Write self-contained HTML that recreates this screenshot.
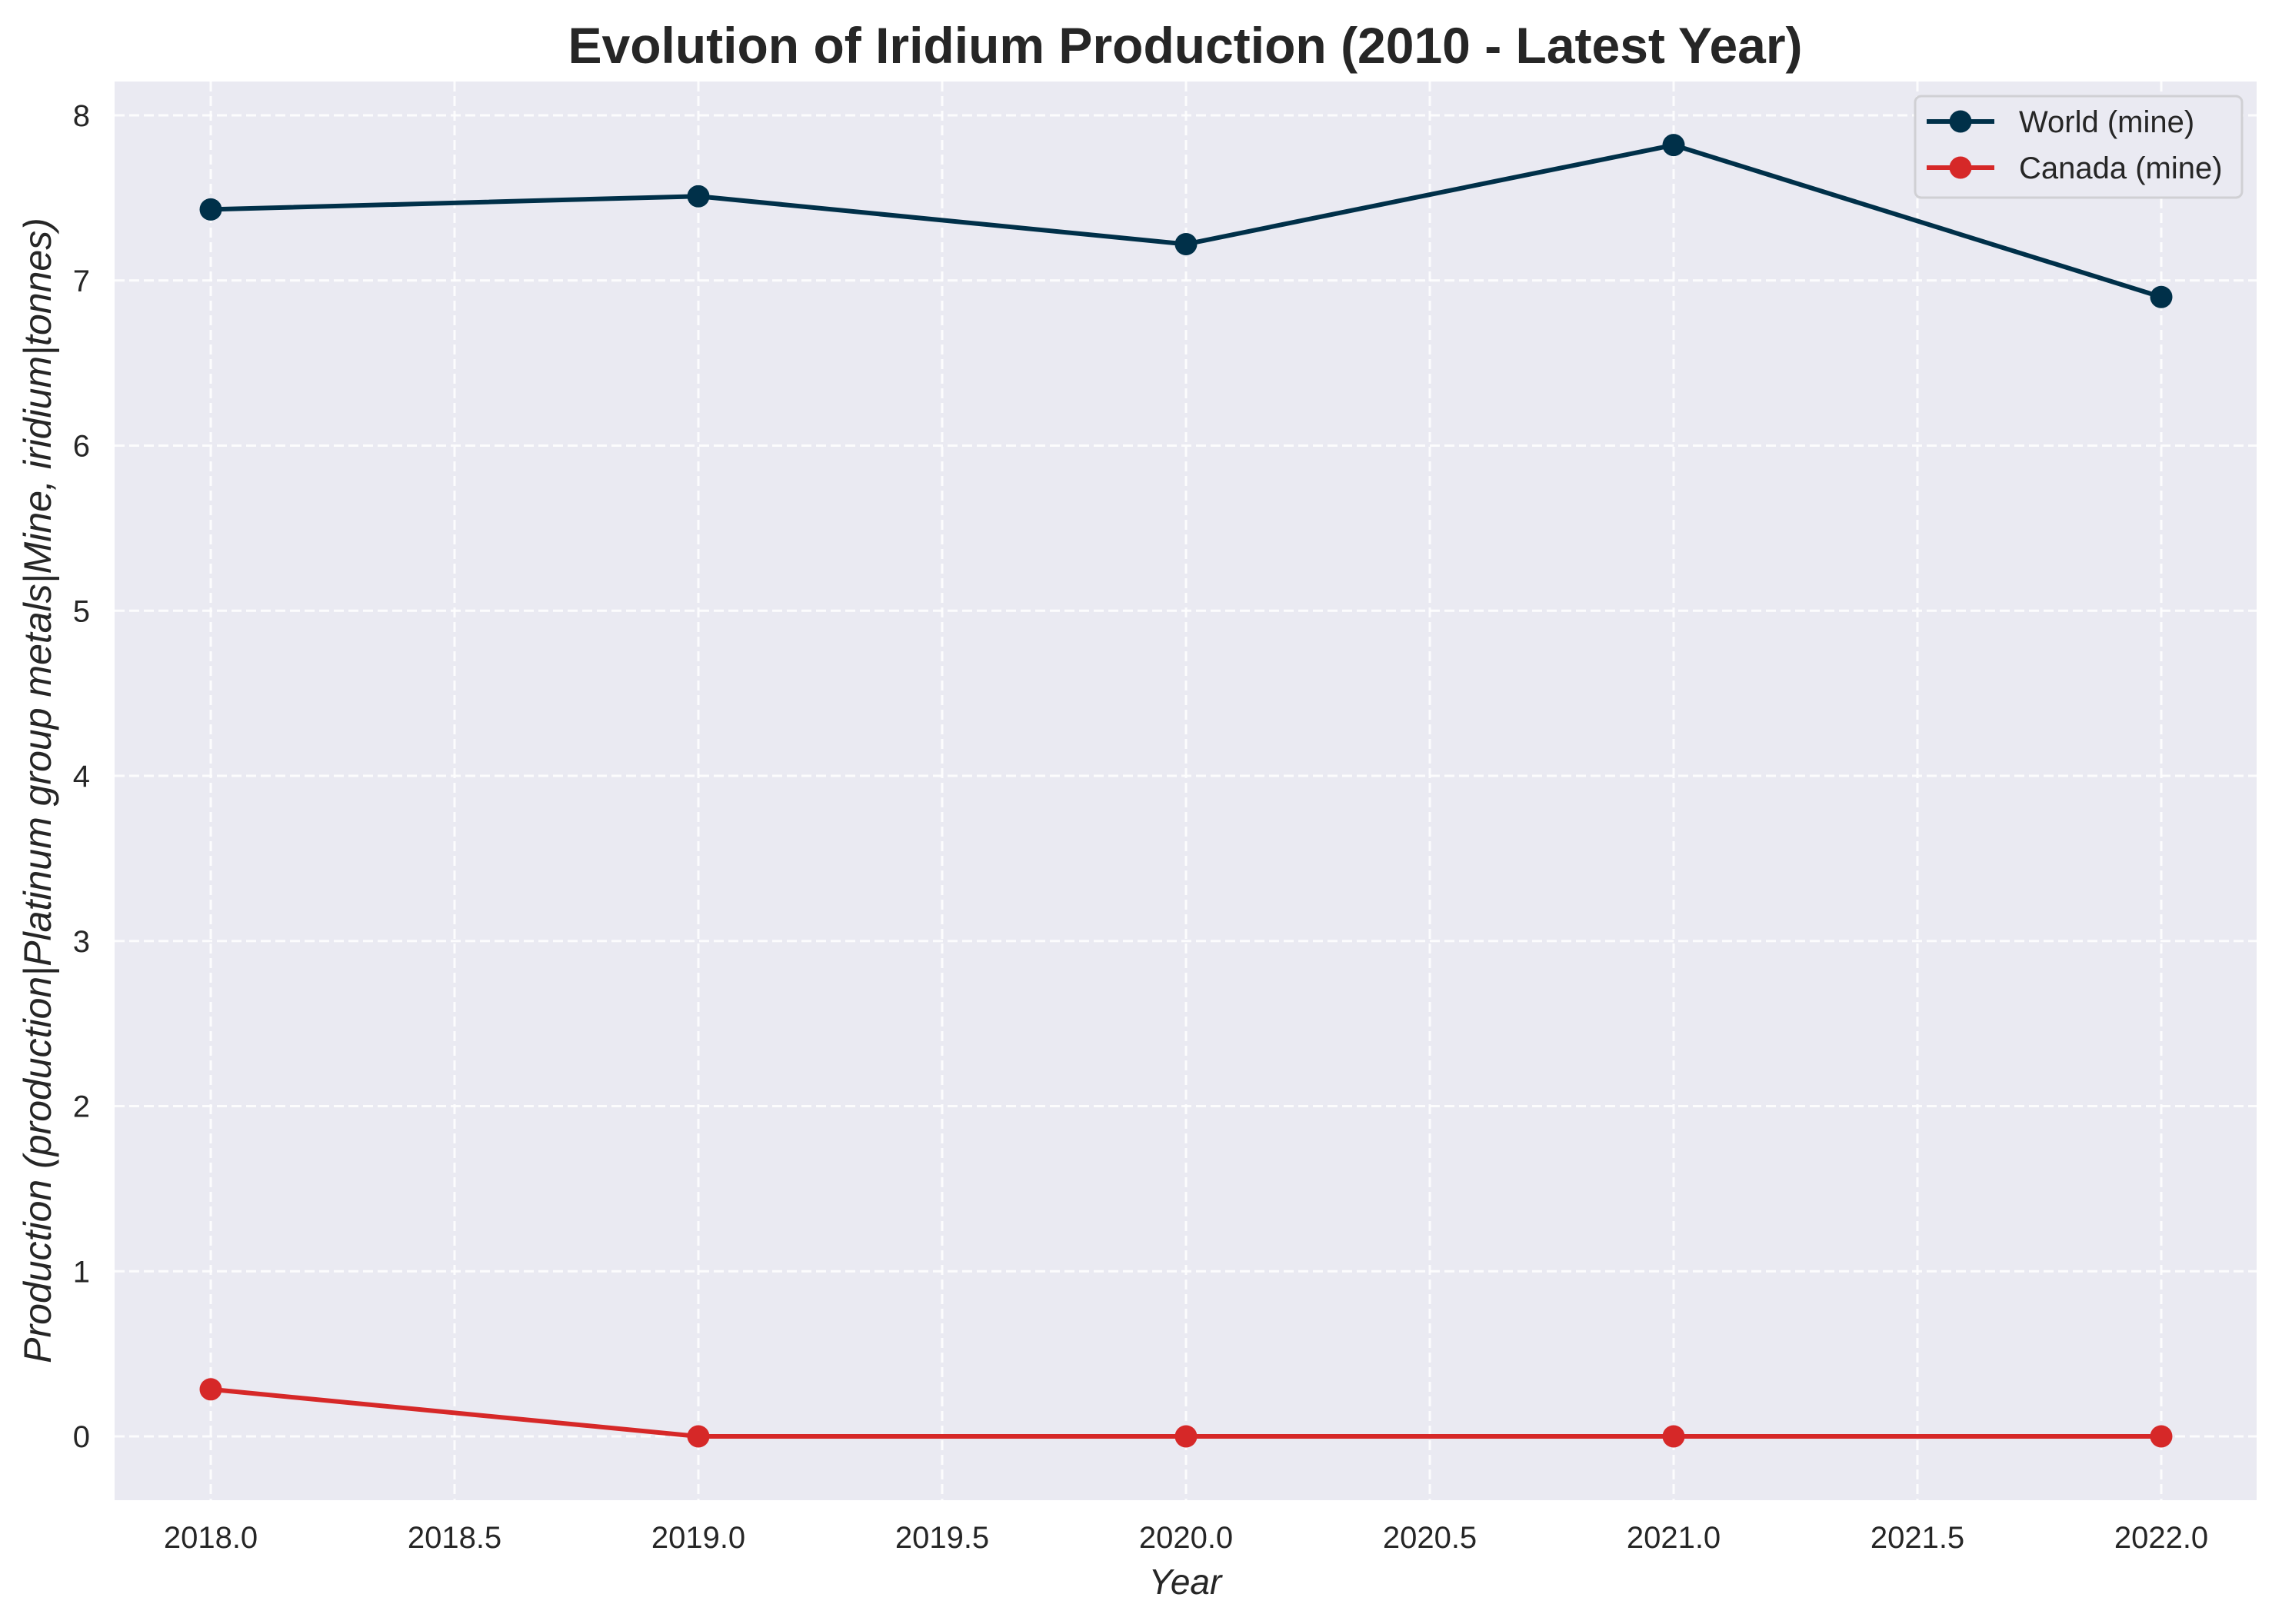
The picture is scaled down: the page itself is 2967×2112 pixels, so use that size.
<!DOCTYPE html>
<html><head><meta charset="utf-8"><style>html,body{margin:0;padding:0;background:#fff}svg{display:block}</style></head>
<body>
<svg id="chart" width="2967" height="2112" xmlns="http://www.w3.org/2000/svg" font-family="Liberation Sans, sans-serif">
<rect x="149" y="106" width="2785" height="1845" fill="#eaeaf2"/>
<g id="grid"></g>
<g id="ticks"></g>
<g id="series"></g>
<text x="1541" y="82" text-anchor="middle" font-size="66" font-weight="bold" fill="#262626">Evolution of Iridium Production (2010 - Latest Year)</text>
<text x="1541" y="2073" text-anchor="middle" font-size="46" font-style="italic" fill="#262626">Year</text>
<text transform="translate(66,1028) rotate(-90)" text-anchor="middle" font-size="50" font-style="italic" fill="#262626">Production (production|Platinum group metals|Mine, iridium|tonnes)</text>
<g>
<rect x="2490" y="125" width="425" height="132" rx="8" fill="#eaeaf2" stroke="#d0d0d4" stroke-width="3"/>
<line x1="2505" y1="158" x2="2593" y2="158" stroke="#003049" stroke-width="6"/>
<circle cx="2549" cy="158" r="14.5" fill="#003049"/>
<text x="2625" y="172" font-size="40" fill="#262626">World (mine)</text>
<line x1="2505" y1="218" x2="2593" y2="218" stroke="#d62828" stroke-width="6"/>
<circle cx="2549" cy="218" r="14.5" fill="#d62828"/>
<text x="2625" y="232" font-size="40" fill="#262626">Canada (mine)</text>
</g>
</svg>
<script>
const years = [2018, 2019, 2020, 2021, 2022];
const worldValues = [7.43, 7.51, 7.22, 7.82, 6.90];
const canadaValues = [0.285, 0, 0, 0, 0];
const xTicks = [2018.0, 2018.5, 2019.0, 2019.5, 2020.0, 2020.5, 2021.0, 2021.5, 2022.0];
const yTicks = [0, 1, 2, 3, 4, 5, 6, 7, 8];

const NS = 'http://www.w3.org/2000/svg';
const xS = v => 274 + (v - 2018) * 634;
const yS = v => 1868 - v * 214.75;
function mk(tag, attrs, parent, text) {
  const e = document.createElementNS(NS, tag);
  for (const k in attrs) e.setAttribute(k, attrs[k]);
  if (text !== undefined) e.textContent = text;
  parent.appendChild(e);
  return e;
}
const grid = document.getElementById('grid');
const ticks = document.getElementById('ticks');
const series = document.getElementById('series');
xTicks.forEach(t => {
  const l = mk('line', {x1: xS(t), x2: xS(t), y1: 106, y2: 1951, stroke: '#fff', 'stroke-width': 3, 'stroke-dasharray': '13 6', opacity: 0.9}, grid);
  
  
  const tx = mk('text', {x: xS(t), y: 2013, 'text-anchor': 'middle', 'font-size': 40, fill: '#262626'}, ticks, t.toFixed(1));
  
  
});
yTicks.forEach(t => {
  const l = mk('line', {x1: 149, x2: 2934, y1: yS(t), y2: yS(t), stroke: '#fff', 'stroke-width': 3, 'stroke-dasharray': '13 6', opacity: 0.9}, grid);
  
  
  const tx = mk('text', {x: 117, y: yS(t) + 14, 'text-anchor': 'end', 'font-size': 40, fill: '#262626'}, ticks, String(t));
  
  
});
function drawSeries(vals, color, name) {
  const pts = years.map((y, i) => xS(y) + ',' + yS(vals[i])).join(' ');
  const pl = mk('polyline', {points: pts, fill: 'none', stroke: color, 'stroke-width': 6, 'stroke-linejoin': 'round'}, series);
  
  
  years.forEach((y, i) => {
    const c = mk('circle', {cx: xS(y), cy: yS(vals[i]), r: 14.5, fill: color}, series);
    
    
  });
}
drawSeries(worldValues, '#003049', 'world');
drawSeries(canadaValues, '#d62828', 'canada');
</script>
</body></html>
